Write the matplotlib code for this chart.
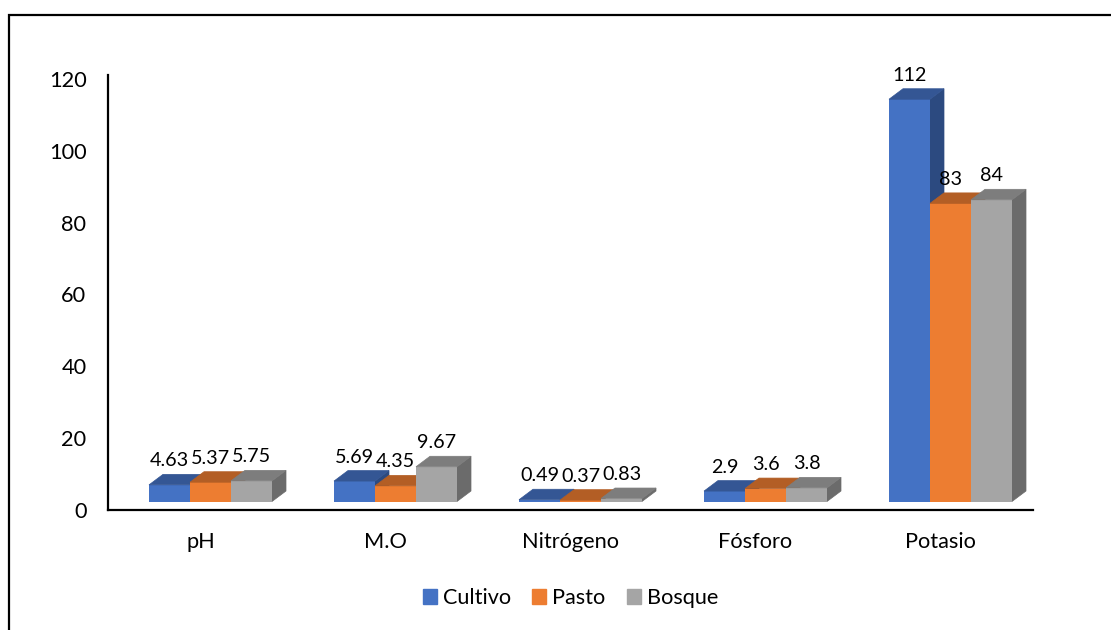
import matplotlib
matplotlib.use("Agg")
import matplotlib.pyplot as plt
from matplotlib.patches import Patch, Rectangle

plt.rcParams['font.family'] = ['Lato', 'DejaVu Sans']

categories = ['pH', 'M.O', 'Nitrógeno', 'Fósforo', 'Potasio']
cultivo = [4.63, 5.69, 0.49, 2.9, 112]
pasto = [5.37, 4.35, 0.37, 3.6, 83]
bosque = [5.75, 9.67, 0.83, 3.8, 84]
value_labels = [
    ['4.63', '5.69', '0.49', '2.9', '112'],
    ['5.37', '4.35', '0.37', '3.6', '83'],
    ['5.75', '9.67', '0.83', '3.8', '84'],
]
yticks = [0, 20, 40, 60, 80, 100, 120]

# front, top and side shades for each series
colors = {
    'Cultivo': ('#4472C4', '#345694', '#2C4A80'),
    'Pasto': ('#ED7D31', '#B35E25', '#B35E25'),
    'Bosque': ('#A5A5A5', '#7D7D7D', '#6B6B6B'),
}

W, H = 1111, 630
fig = plt.figure(figsize=(W / 100, H / 100), dpi=100)

# pixel box of the plot area
left, right, top, bottom = 108, 1033, 79, 510
ax = fig.add_axes([left / W, 1 - bottom / H, (right - left) / W, (bottom - top) / H])
ax.set_xlim(0, 5)
ax.set_ylim(0, 120)
ax.patch.set_visible(False)

px_x = 5 / (right - left)
px_y = 120 / (bottom - top)
bar_w = 41 * px_x
depth_x = 14 * px_x
depth_y = 10.5 * px_y
floor = 8.5 * px_y
group_start = 41 * px_x


def draw_box(x, v, front, roof, side):
    y0 = floor
    y1 = floor + v
    ax.fill([x + bar_w, x + bar_w + depth_x, x + bar_w + depth_x, x + bar_w],
            [y0, y0 + depth_y, y1 + depth_y, y1], color=side, lw=0.5, zorder=3)
    ax.bar(x, v, bar_w, bottom=y0, align='edge', color=front, lw=0, zorder=3)
    ax.fill([x, x + depth_x, x + bar_w + depth_x, x + bar_w],
            [y1, y1 + depth_y, y1 + depth_y, y1], color=roof, lw=0.5, zorder=3)


series = [('Cultivo', cultivo), ('Pasto', pasto), ('Bosque', bosque)]
for s, (name, vals) in enumerate(series):
    front, roof, side = colors[name]
    for i, v in enumerate(vals):
        x = i + group_start + s * bar_w
        draw_box(x, v, front, roof, side)
        ax.annotate(value_labels[s][i], (x + bar_w / 2, floor + v),
                    xytext=(0, 24 * 0.72), textcoords='offset points',
                    ha='center', va='center', fontsize=14.2, color='black',
                    zorder=5, clip_on=False)

for spine in ['top', 'right']:
    ax.spines[spine].set_visible(False)
ax.spines['left'].set_linewidth(1.6)
ax.spines['bottom'].set_linewidth(1.6)
ax.spines['left'].set_bounds(0, 121)

ax.set_yticks(yticks)
ax.set_xticks([i + 0.5 for i in range(5)])
ax.set_xticklabels(categories)
ax.tick_params(axis='both', length=0, labelsize=15.7, labelcolor='black')
ax.tick_params(axis='x', pad=16)
ax.tick_params(axis='y', pad=15.5)

# outer frame of the chart
fig.add_artist(Rectangle((9 / W, -0.01), 1.2, 1 - 15 / H + 0.01, transform=fig.transFigure,
                         fill=False, ec='black', lw=1.6))

handles = [Patch(color=colors[name][0], label=name) for name, _ in series]
fig.legend(handles=handles, loc='center', bbox_to_anchor=(570.5 / W, 1 - 598 / H), ncol=3,
           frameon=False, fontsize=15.6, handlelength=0.65, handleheight=0.65,
           handletextpad=0.28, columnspacing=0.97)

fig.savefig('out.png', dpi=100)
